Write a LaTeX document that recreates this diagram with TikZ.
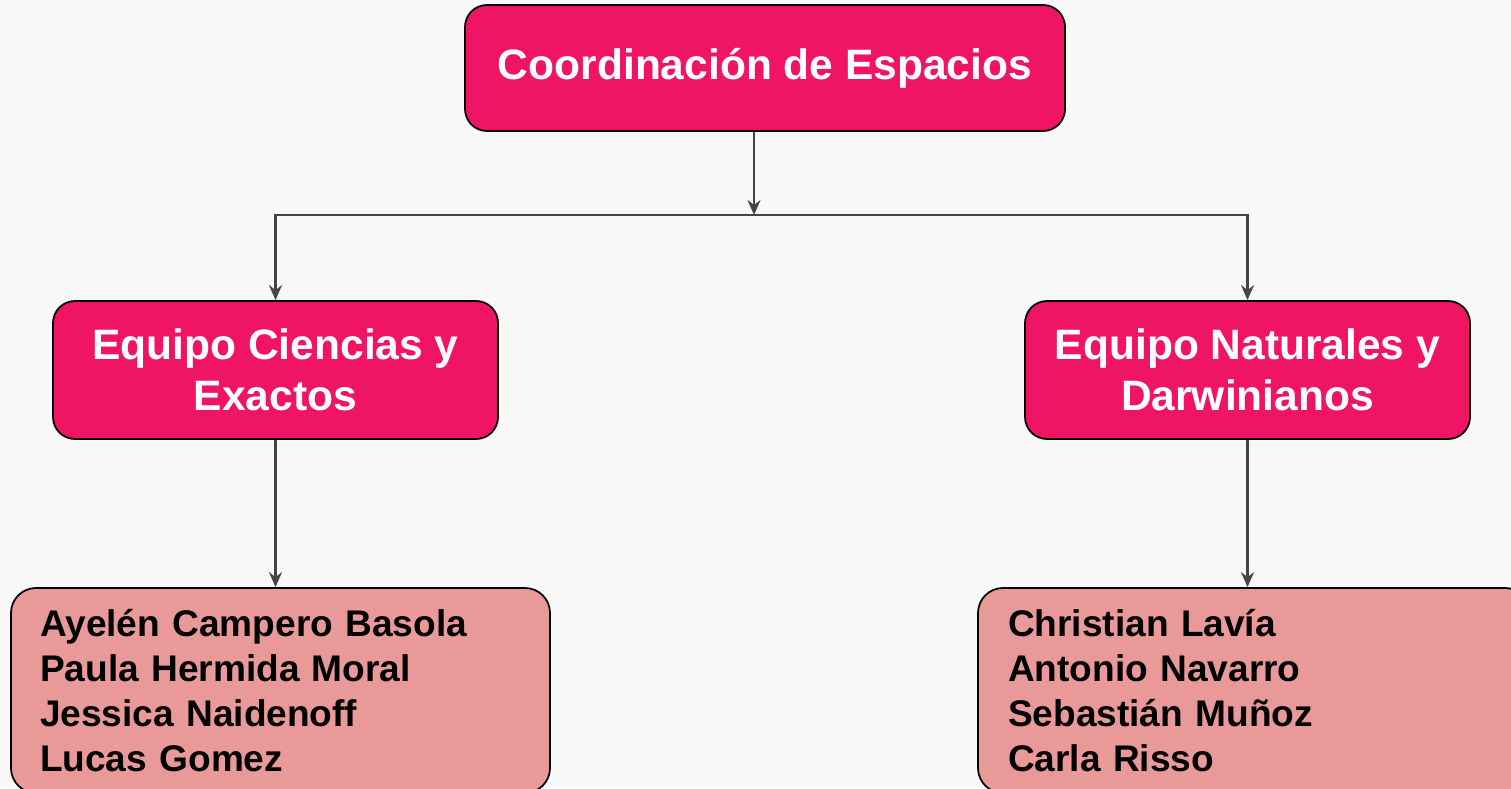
\documentclass[tikz,border=0pt]{standalone}
\usepackage{fontspec}
\setmainfont{Liberation Sans}
\usetikzlibrary{arrows.meta,positioning}
\definecolor{pinkbox}{HTML}{F01464}
\definecolor{salmonbox}{HTML}{EA9999}
\definecolor{bgcol}{HTML}{F9F9F9}
\definecolor{arrcol}{HTML}{454545}
\begin{document}
\begin{tikzpicture}[
	headbox/.style={draw=black, line width=0.5pt, fill=pinkbox, rounded corners=0.22cm, text=white, font=\bfseries\fontsize{12.1}{14.5}\selectfont, align=center},
	listbox/.style={draw=black, line width=0.5pt, fill=salmonbox, rounded corners=0.25cm, font=\bfseries\fontsize{10.55}{12.8}\selectfont, align=left, inner ysep=0pt},
	arr/.style={-{Stealth[length=1.5mm, width=1.3mm, inset=0.5mm]}, arrcol, line width=0.6pt}
]
\fill[bgcol] (0,0) rectangle (15.11,7.88);
\useasboundingbox (0,0) rectangle (15.11,7.88);
\node[headbox, minimum width=6cm, minimum height=1.26cm] (coord) at (7.65,7.20) {Coordinación de Espacios};
\node[headbox, minimum width=4.45cm, minimum height=1.38cm] (ciencias) at (2.755,4.18) {Equipo Ciencias y\\Exactos};
\node[headbox, minimum width=4.45cm, minimum height=1.38cm] (naturales) at (12.475,4.18) {Equipo Naturales y\\Darwinianos};
\node[listbox, text width=4.81cm, inner xsep=0.29cm, minimum height=2.05cm] (listaA) at (2.805,0.975)
	{Ayelén Campero Basola\\Paula Hermida Moral\\Jessica Naidenoff\\Lucas Gomez};
\node[listbox, text width=4.92cm, inner xsep=0.30cm, minimum height=2.05cm] (listaB) at (12.54,0.975)
	{Christian Lavía\\Antonio Navarro\\Sebastián Muñoz\\Carla Risso};
\coordinate (hub) at (7.54,5.73);
\draw[arr] (coord.south -| hub) -- (hub);
\draw[arr] (hub) -| (ciencias.north);
\draw[arr] (hub) -| (naturales.north);
\draw[arr] (ciencias.south) -- (ciencias.south |- listaA.north);
\draw[arr] (naturales.south) -- (naturales.south |- listaB.north);
\end{tikzpicture}
\end{document}
